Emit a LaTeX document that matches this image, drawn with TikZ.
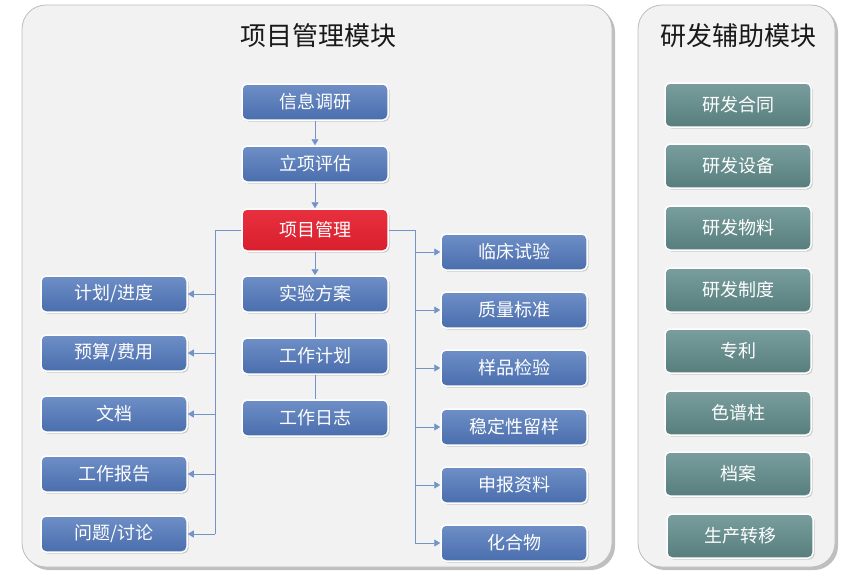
\documentclass[tikz,border=0pt]{standalone}
\usepackage{fontspec}
\newfontfamily\cjk{Noto Sans CJK SC}
\usetikzlibrary{arrows.meta,shadows}
\definecolor{btop}{HTML}{6E8FC6}
\definecolor{bbot}{HTML}{4A6DAD}
\definecolor{rtop}{HTML}{E8303F}
\definecolor{rbot}{HTML}{D71F2E}
\definecolor{ttop}{HTML}{7A9E9E}
\definecolor{tbot}{HTML}{577D7D}
\definecolor{lnc}{HTML}{7393C8}
\definecolor{pfill}{HTML}{F2F2F2}
\definecolor{pdraw}{HTML}{BDBDBD}
\tikzset{
  panel/.style={draw=pdraw, fill=pfill, rounded corners=24pt, line width=0.8pt,
    drop shadow={opacity=0.5, shadow xshift=3pt, shadow yshift=-3pt}},
  title/.style={font=\cjk\fontsize{26}{29}\selectfont, text=black!90},
  bbox/.style={draw=white, line width=1.5pt, rounded corners=5pt,
    minimum width=146pt, minimum height=36pt, inner sep=0pt,
    text=white, font=\cjk\fontsize{18}{21}\selectfont,
    top color=btop, bottom color=bbot,
    drop shadow={opacity=0.35, shadow xshift=1.5pt, shadow yshift=-1.5pt}},
  rbox/.style={bbox, top color=rtop, bottom color=rbot, minimum height=42pt},
  tbox/.style={bbox, top color=ttop, bottom color=tbot, minimum height=44pt},
  ln/.style={draw=lnc, line width=0.8pt},
  arr/.style={ln, -{Triangle[length=6pt,width=7pt]}},
}
\begin{document}
\begin{tikzpicture}[x=1pt,y=-1pt]
\useasboundingbox (0,0) rectangle (860,573);
\fill[white] (0,0) rectangle (860,573);
% panels
\path[panel] (22,5) rectangle (612,567);
\path[panel] (638,5) rectangle (835,567);
\node[title] (t1) at (318,36) {项目管理模块};
\node[title] (t2) at (738,36) {研发辅助模块};
% center column
\node[bbox] (c1) at (315,102) {信息调研};
\node[bbox] (c2) at (315,164) {立项评估};
\node[rbox] (pm) at (315,230) {项目管理};
\node[bbox] (c4) at (315,294) {实验方案};
\node[bbox] (c5) at (315,356) {工作计划};
\node[bbox] (c6) at (315,418) {工作日志};
% left column
\node[bbox] (l1) at (114,294) {计划/进度};
\node[bbox] (l2) at (114,353) {预算/费用};
\node[bbox] (l3) at (114,414) {文档};
\node[bbox] (l4) at (114,474) {工作报告};
\node[bbox] (l5) at (114,534) {问题/讨论};
% right column
\node[bbox] (r1) at (514,252) {临床试验};
\node[bbox] (r2) at (514,310) {质量标准};
\node[bbox] (r3) at (514,368) {样品检验};
\node[bbox] (r4) at (514,427) {稳定性留样};
\node[bbox] (r5) at (514,485) {申报资料};
\node[bbox] (r6) at (514,543) {化合物};
% right panel
\node[tbox] (s1) at (738,105) {研发合同};
\node[tbox] (s2) at (738,166) {研发设备};
\node[tbox] (s3) at (738,228) {研发物料};
\node[tbox] (s4) at (738,290) {研发制度};
\node[tbox] (s5) at (738,351) {专利};
\node[tbox] (s6) at (738,413) {色谱柱};
\node[tbox] (s7) at (738,474) {档案};
\node[tbox] (s8) at (740,536) {生产转移};
% connectors
\draw[arr] (c1.south) -- (c2.north);
\draw[arr] (c2.south) -- (pm.north);
\draw[arr] (pm.south) -- (c4.north);
\draw[ln] (c4.south) -- (c5.north);
\draw[ln] (c5.south) -- (c6.north);
\coordinate (LB) at (215,534);
\coordinate (RB) at (415,543);
\draw[ln] (pm.west) -| (LB);
\draw[ln] (pm.east) -| (RB);
\foreach \n in {l1,l2,l3,l4,l5}{\draw[arr] (LB |- \n.east) -- (\n.east);}
\foreach \n in {r1,r2,r3,r4,r5,r6}{\draw[arr] (RB |- \n.west) -- (\n.west);}
\end{tikzpicture}
\end{document}
